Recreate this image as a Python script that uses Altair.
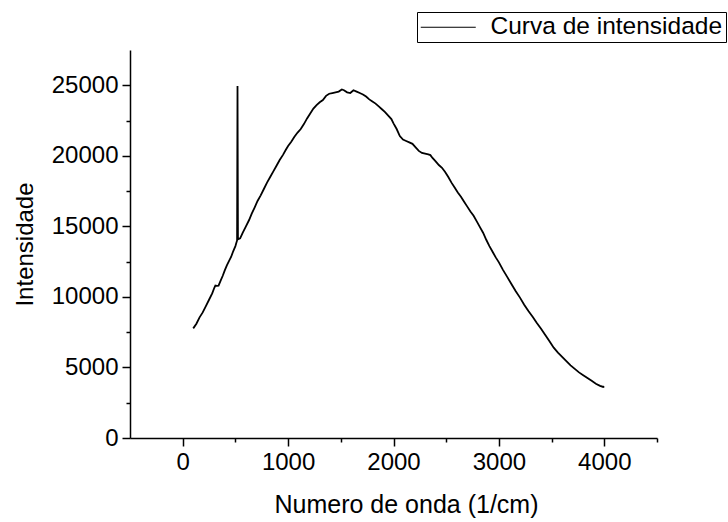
import altair as alt
import pandas as pd

# Wavenumber (1/cm) and intensity values
wavenumber = [
    100, 130, 160, 190, 220, 250, 280, 300, 310, 325, 340, 360, 380, 400, 420, 440, 460, 480,
    500, 510, 516, 520, 524, 530, 545, 570, 600, 630, 655, 680, 710, 740, 770, 800, 830, 860,
    890, 920, 950, 980, 1000, 1030, 1060, 1090, 1120, 1150, 1180, 1210, 1240, 1270, 1300, 1330,
    1360, 1390, 1420, 1450, 1480, 1510, 1530, 1560, 1590, 1620, 1650, 1680, 1710, 1740, 1770,
    1800, 1830, 1860, 1890, 1920, 1950, 1980, 2000, 2030, 2060, 2090, 2120, 2150, 2180, 2210,
    2240, 2270, 2300, 2330, 2350, 2370, 2400, 2430, 2460, 2490, 2520, 2550, 2580, 2610, 2640,
    2670, 2700, 2730, 2760, 2790, 2820, 2850, 2880, 2910, 2940, 2970, 3000, 3040, 3080, 3120,
    3160, 3200, 3240, 3280, 3320, 3360, 3400, 3440, 3480, 3520, 3560, 3600, 3640, 3680, 3720,
    3760, 3800, 3840, 3880, 3920, 3960, 3990, 4000,
]
intensity = [
    7770, 8100, 8550, 8900, 9350, 9800, 10250, 10650, 10800, 10780, 10800, 11150, 11500, 11900,
    12250, 12550, 12850, 13250, 13600, 13850, 14000, 24950, 14200, 14100, 14150, 14550, 15000,
    15450, 15900, 16300, 16800, 17200, 17650, 18100, 18500, 18900, 19300, 19700, 20050, 20450,
    20700, 21000, 21350, 21650, 21900, 22250, 22650, 23000, 23350, 23600, 23800, 23950, 24250,
    24400, 24450, 24500, 24550, 24700, 24650, 24500, 24450, 24650, 24550, 24450, 24350, 24200,
    24000, 23850, 23700, 23500, 23300, 23100, 22850, 22600, 22300, 21900, 21400, 21150, 21050,
    20950, 20850, 20600, 20350, 20200, 20150, 20100, 20050, 19850, 19600, 19350, 19150, 18850,
    18500, 18100, 17750, 17400, 17100, 16750, 16400, 16050, 15750, 15350, 14950, 14550, 14050,
    13600, 13200, 12800, 12450, 11900, 11400, 10900, 10400, 9950, 9450, 9000, 8600, 8150, 7750,
    7300, 6850, 6400, 6050, 5750, 5450, 5150, 4900, 4650, 4450, 4250, 4050, 3850, 3700, 3620,
    3650,
]
series_name = "Curva de intensidade"

x_tick_values = [0, 500, 1000, 1500, 2000, 2500, 3000, 3500, 4000, 4500]
y_tick_values = [0, 2500, 5000, 7500, 10000, 12500, 15000, 17500, 20000, 22500, 25000]

df = pd.DataFrame({
    "x": wavenumber,
    "y": intensity,
    "serie": [series_name] * len(wavenumber),
})

FONT = "Liberation Sans"

x_axis = alt.Axis(
    values=x_tick_values,
    labelExpr="datum.value % 1000 === 0 ? format(datum.value, 'd') : ''",
    tickSize={"condition": {"test": "datum.value % 1000 === 0", "value": 8}, "value": 4},
    labelOverlap=False,
    labelFontSize=24,
    labelPadding=4,
    title="Numero de onda (1/cm)",
    titleFontSize=25,
    titlePadding=18,
    titleX=276,
    grid=False,
)
y_axis = alt.Axis(
    values=y_tick_values,
    labelExpr="datum.value % 5000 === 0 ? format(datum.value, 'd') : ''",
    tickSize={"condition": {"test": "datum.value % 5000 === 0", "value": 8}, "value": 4},
    labelOverlap=False,
    labelFontSize=24,
    labelPadding=4,
    title="Intensidade",
    titleFontSize=24,
    titlePadding=14,
    grid=False,
)

chart = (
    alt.Chart(df)
    .mark_line(strokeWidth=1.8, clip=True)
    .encode(
        x=alt.X("x:Q", scale=alt.Scale(domain=[-500, 4500], nice=False, zero=False), axis=x_axis),
        y=alt.Y("y:Q", scale=alt.Scale(domain=[0, 27500], nice=False), axis=y_axis),
        color=alt.Color(
            "serie:N",
            scale=alt.Scale(domain=[series_name], range=["#000000"]),
            legend=alt.Legend(
                title=None,
                orient="none",
                legendX=287,
                legendY=-38,
                strokeColor="#000000",
                padding=3,
                symbolType="M-5,0H5",
                symbolSize=121,
                symbolOffset=16,
                symbolStrokeWidth=1,
                labelFontSize=24.5,
                labelOffset=30,
                labelLimit=0,
                labelColor="#000000",
                labelFont=FONT,
            ),
        ),
        order=alt.Order("x:Q"),
    )
    .properties(
        width=527,
        height=388,
        autosize=alt.AutoSizeParams(type="none"),
        padding={"left": 130, "top": 50, "right": 71, "bottom": 84},
    )
    .configure(font=FONT, background="white")
    .configure_view(stroke=None)
    .configure_axis(
        domainColor="#000000",
        domainWidth=1.5,
        tickColor="#000000",
        tickWidth=1.5,
        labelColor="#000000",
        titleColor="#000000",
        titleFontWeight="normal",
        labelFont=FONT,
        titleFont=FONT,
    )
)

chart.save("out.html", embed_options={"renderer": "svg", "actions": False})
